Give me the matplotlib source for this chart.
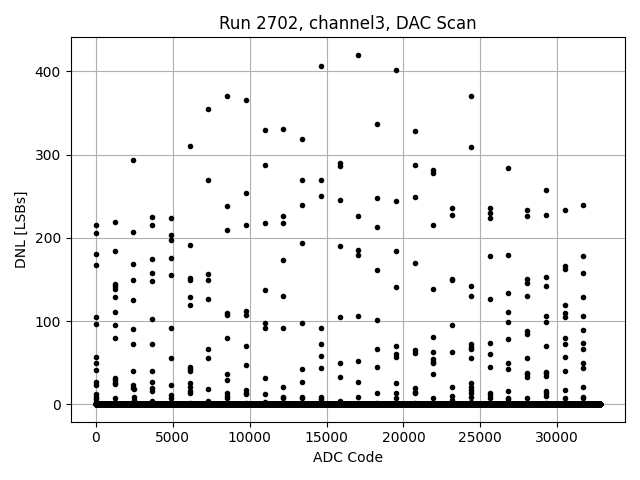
import numpy as np
from matplotlib import pyplot as plt

# first code of each scan step (DAC scan)
col_codes = [0, 1219, 2438, 3657, 4876, 6095, 7314, 8533, 9752, 10971,
             12190, 13409, 14628, 15847, 17066, 18285, 19504, 20723,
             21942, 23161, 24380, 25599, 26818, 28037, 29256, 30475, 31694]

# DNL outliers [LSBs] in each scan step
col_dnl = [
    [216, 206, 180, 167, 105, 97, 57, 50, 41, 27, 23, 12, 9, 6, 3, 2, 1],
    [219, 184, 144, 142, 139, 129, 111, 95, 80, 32, 29, 26, 24, 8, 3, 1],
    [294, 207, 168, 149, 125, 91, 72, 40, 23, 20, 18, 9, 5, 2],
    [225, 215, 175, 158, 148, 103, 73, 40, 27, 19, 16, 4, 2],
    [224, 204, 197, 176, 155, 92, 55, 23, 11, 8, 3, 1],
    [310, 191, 152, 149, 129, 119, 45, 42, 40, 25, 21, 16, 13, 2],
    [355, 269, 157, 149, 127, 66, 55, 18, 4, 1],
    [370, 238, 209, 110, 107, 80, 36, 29, 13, 10, 8, 2],
    [366, 254, 215, 112, 107, 70, 47, 17, 14, 12, 2],
    [330, 287, 218, 137, 98, 92, 32, 12, 3, 1],
    [331, 226, 218, 173, 130, 92, 21, 9, 7, 2],
    [319, 270, 239, 194, 98, 42, 27, 9, 8, 2],
    [407, 270, 250, 92, 72, 58, 43, 9, 6, 1],
    [290, 286, 246, 190, 105, 49, 33, 4, 1],
    [420, 226, 185, 179, 106, 52, 27, 9, 2],
    [337, 248, 213, 161, 101, 67, 45, 14, 2],
    [402, 244, 184, 141, 70, 60, 57, 25, 14, 8, 2],
    [328, 287, 249, 170, 65, 62, 19, 15, 13, 2],
    [281, 278, 215, 139, 81, 63, 54, 51, 49, 36, 7, 2],
    [236, 227, 151, 149, 95, 63, 21, 10, 5, 1],
    [371, 309, 142, 130, 72, 69, 67, 55, 25, 21, 17, 13, 9, 3],
    [236, 230, 224, 178, 126, 74, 60, 45, 14, 11, 8, 2],
    [284, 179, 134, 111, 99, 79, 49, 42, 16, 8, 6, 2],
    [233, 226, 150, 146, 130, 88, 85, 55, 38, 36, 33, 8, 2],
    [258, 227, 153, 142, 106, 99, 70, 39, 37, 34, 16, 14, 10, 2],
    [233, 166, 163, 119, 110, 105, 80, 73, 57, 40, 17, 8, 3],
    [240, 178, 158, 129, 106, 89, 74, 67, 50, 43, 21, 9, 7, 2],
]

n_codes = 32768

codes = np.arange(n_codes)
dnl = np.zeros(n_codes)
for start, vals in zip(col_codes, col_dnl):
    dnl[start:start + len(vals)] = vals

plt.figure(figsize=(6.4, 4.8))
plt.plot(codes, dnl, '.', color='black')
plt.xlabel("ADC Code")
plt.ylabel("DNL [LSBs]")
plt.title("Run 2702, channel3, DAC Scan")
plt.grid(True)
plt.tight_layout()
plt.savefig("out.png", dpi=100)
